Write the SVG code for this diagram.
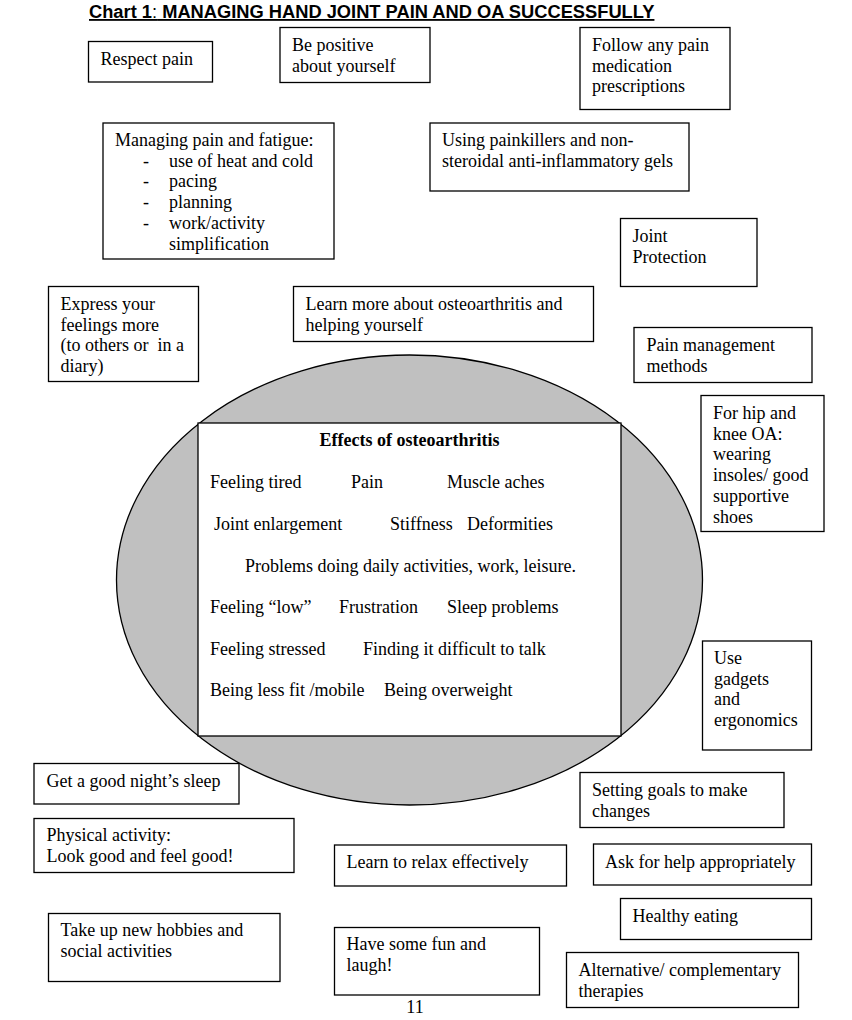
<svg xmlns="http://www.w3.org/2000/svg" width="852" height="1020" viewBox="0 0 852 1020">
<style>
.box{fill:#fff;stroke:#000;stroke-width:1.3}
.t{font-family:"Liberation Serif","Times New Roman",serif;font-size:18px;fill:#000}
.b{font-weight:bold}
.title{font-family:"Liberation Sans",Arial,sans-serif;font-size:18.3px;font-weight:bold;fill:#000;text-decoration:underline}
</style>
<rect x="0" y="0" width="852" height="1020" fill="#fff"/>
<text class="title" x="89" y="18">Chart 1<tspan font-weight="normal">:</tspan> MANAGING HAND JOINT PAIN AND OA SUCCESSFULLY</text>

<g id="connectors"></g>

<g id="effects">
<ellipse cx="409.5" cy="580" rx="293" ry="225" fill="#c0c0c0" stroke="#000" stroke-width="1.3"/>
<rect class="box" x="198" y="423" width="423" height="313"/>
<text class="t b" x="409.5" y="446" text-anchor="middle">Effects of osteoarthritis</text>
<text class="t" y="488"><tspan x="210">Feeling tired</tspan><tspan x="351">Pain</tspan><tspan x="447">Muscle aches</tspan></text>
<text class="t" y="530"><tspan x="214">Joint enlargement</tspan><tspan x="390">Stiffness</tspan><tspan x="467">Deformities</tspan></text>
<text class="t" x="245" y="571.5">Problems doing daily activities, work, leisure.</text>
<text class="t" y="613"><tspan x="210">Feeling “low”</tspan><tspan x="339">Frustration</tspan><tspan x="447">Sleep problems</tspan></text>
<text class="t" y="654.5"><tspan x="210">Feeling stressed</tspan><tspan x="363">Finding it difficult to talk</tspan></text>
<text class="t" y="696"><tspan x="210">Being less fit /mobile</tspan><tspan x="384">Being overweight</tspan></text>
</g>

<g id="respect-pain">
<rect class="box" x="88.5" y="41.5" width="124" height="40.5"/>
<text class="t" x="100.5" y="64.5">Respect pain</text>
</g>

<g id="be-positive">
<rect class="box" x="280" y="27.5" width="150" height="55"/>
<text class="t" x="292" y="51"><tspan x="292">Be positive</tspan><tspan x="292" dy="20.7">about yourself</tspan></text>
</g>

<g id="follow-medication">
<rect class="box" x="580" y="27.5" width="150" height="82"/>
<text class="t" y="51"><tspan x="592">Follow any pain</tspan><tspan x="592" dy="20.7">medication</tspan><tspan x="592" dy="20.7">prescriptions</tspan></text>
</g>

<g id="managing-pain">
<rect class="box" x="103" y="123" width="231" height="136"/>
<text class="t" y="146"><tspan x="115">Managing pain and fatigue:</tspan><tspan x="143" dy="20.7">-</tspan><tspan x="169">use of heat and cold</tspan><tspan x="143" dy="20.7">-</tspan><tspan x="169">pacing</tspan><tspan x="143" dy="20.7">-</tspan><tspan x="169">planning</tspan><tspan x="143" dy="20.7">-</tspan><tspan x="169">work/activity</tspan><tspan x="169" dy="20.7">simplification</tspan></text>
</g>

<g id="painkillers">
<rect class="box" x="430" y="123" width="259" height="68"/>
<text class="t" y="146"><tspan x="442">Using painkillers and non-</tspan><tspan x="442" dy="20.7">steroidal anti-inflammatory gels</tspan></text>
</g>

<g id="joint-protection">
<rect class="box" x="620.5" y="218.5" width="136.5" height="68"/>
<text class="t" y="242"><tspan x="632.5">Joint</tspan><tspan x="632.5" dy="20.7">Protection</tspan></text>
</g>

<g id="express-feelings">
<rect class="box" x="48.5" y="286.5" width="150" height="95"/>
<text class="t" y="310" style="white-space:pre"><tspan x="60.5">Express your</tspan><tspan x="60.5" dy="20.7">feelings more</tspan><tspan x="60.5" dy="20.7">(to others or  in a</tspan><tspan x="60.5" dy="20.7">diary)</tspan></text>
</g>

<g id="learn-more">
<rect class="box" x="293.5" y="286.5" width="300" height="55"/>
<text class="t" y="310"><tspan x="305.5">Learn more about osteoarthritis and</tspan><tspan x="305.5" dy="20.7">helping yourself</tspan></text>
</g>

<g id="pain-management">
<rect class="box" x="634" y="327.5" width="178" height="55"/>
<text class="t" y="351"><tspan x="646.5">Pain management</tspan><tspan x="646.5" dy="20.7">methods</tspan></text>
</g>

<g id="hip-knee">
<rect class="box" x="701" y="395.5" width="123" height="136"/>
<text class="t" y="419"><tspan x="713">For hip and</tspan><tspan x="713" dy="20.7">knee OA:</tspan><tspan x="713" dy="20.7">wearing</tspan><tspan x="713" dy="20.7">insoles/ good</tspan><tspan x="713" dy="20.7">supportive</tspan><tspan x="713" dy="20.7">shoes</tspan></text>
</g>

<g id="gadgets">
<rect class="box" x="702.5" y="641" width="109" height="109"/>
<text class="t" y="664"><tspan x="714">Use</tspan><tspan x="714" dy="20.7">gadgets</tspan><tspan x="714" dy="20.7">and</tspan><tspan x="714" dy="20.7">ergonomics</tspan></text>
</g>

<g id="sleep">
<rect class="box" x="34" y="763.5" width="205" height="40.5"/>
<text class="t" x="46.5" y="786.5">Get a good night’s sleep</text>
</g>

<g id="setting-goals">
<rect class="box" x="580" y="772.5" width="204" height="55"/>
<text class="t" y="796"><tspan x="592">Setting goals to make</tspan><tspan x="592" dy="20.7">changes</tspan></text>
</g>

<g id="physical-activity">
<rect class="box" x="34" y="818.5" width="260" height="54"/>
<text class="t" y="841"><tspan x="46.5">Physical activity:</tspan><tspan x="46.5" dy="20.7">Look good and feel good!</tspan></text>
</g>

<g id="relax">
<rect class="box" x="334.5" y="845" width="232" height="41"/>
<text class="t" x="346.5" y="868">Learn to relax effectively</text>
</g>

<g id="ask-help">
<rect class="box" x="593.5" y="844" width="218" height="41"/>
<text class="t" x="605" y="867.5">Ask for help appropriately</text>
</g>

<g id="healthy-eating">
<rect class="box" x="620.5" y="898.5" width="191" height="41"/>
<text class="t" x="632.5" y="922">Healthy eating</text>
</g>

<g id="hobbies">
<rect class="box" x="48.5" y="913.5" width="231.5" height="68"/>
<text class="t" y="936"><tspan x="60.5">Take up new hobbies and</tspan><tspan x="60.5" dy="20.7">social activities</tspan></text>
</g>

<g id="fun">
<rect class="box" x="334.5" y="927.5" width="205" height="67.5"/>
<text class="t" y="950"><tspan x="346.5">Have some fun and</tspan><tspan x="346.5" dy="20.7">laugh!</tspan></text>
</g>

<g id="alternative">
<rect class="box" x="566.5" y="952.5" width="232" height="55"/>
<text class="t" y="976"><tspan x="578.5">Alternative/ complementary</tspan><tspan x="578.5" dy="20.7">therapies</tspan></text>
</g>

<text class="t" x="415" y="1013" text-anchor="middle">11</text>
</svg>
